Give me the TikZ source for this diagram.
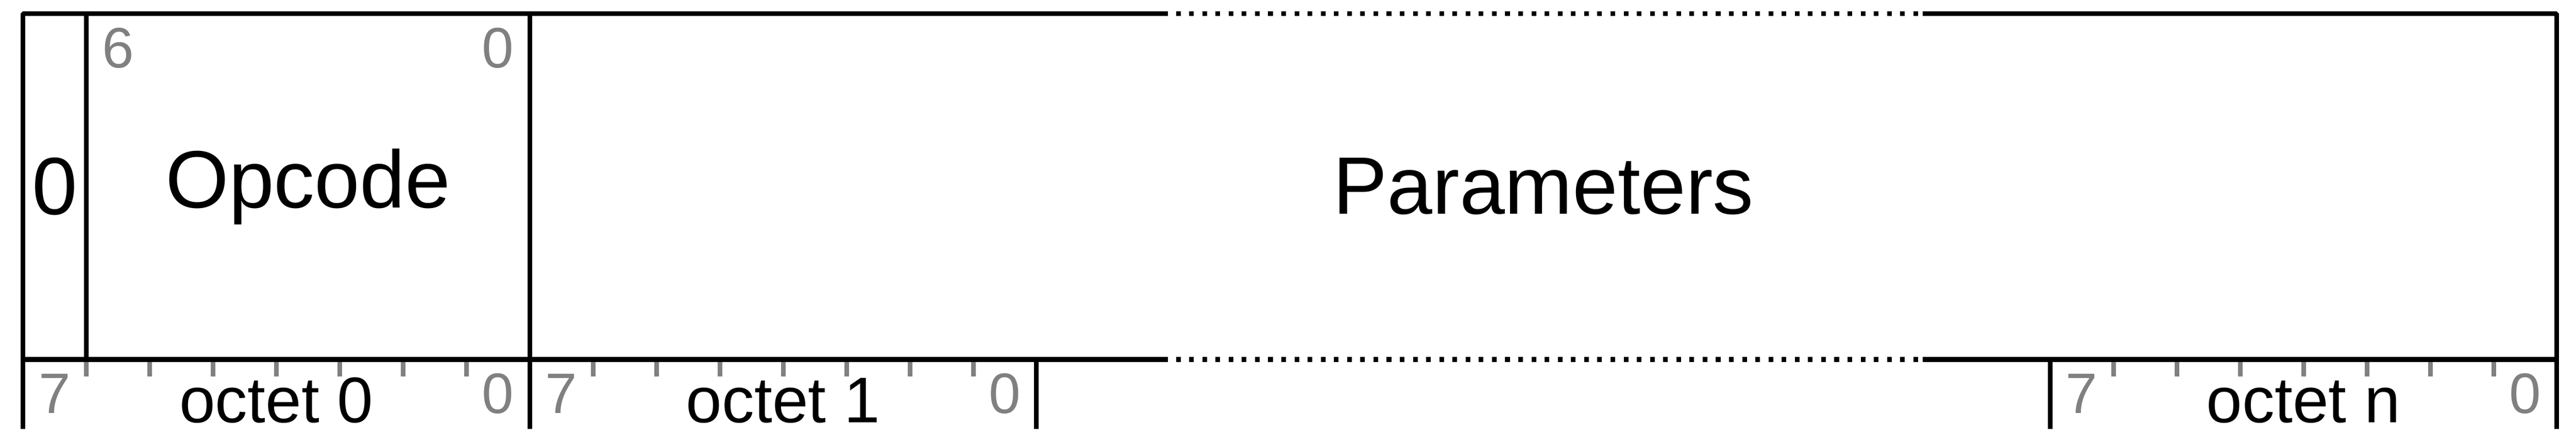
\documentclass[tikz,border=0pt]{standalone}
\usepackage{fontspec}
\setmainfont{Liberation Sans}
\usepackage{tikz}
\usetikzlibrary{
  calc,
  positioning,
}
\definecolor{bitgrey}{RGB}{128, 128, 128}
\tikzstyle{field} = [
  rectangle,
  line width=1pt,
  line join=bevel,
  inner sep=0pt,
  outer sep=0pt,
  minimum height=73.95pt,
  font=\fontsize{17.4}{20}\selectfont,
]
\tikzstyle{octet} = [
  rectangle,
  inner sep=0pt,
  outer sep=0pt,
  minimum width=108.3pt,
  text height=13.45pt,
  text depth=1.4pt,
  font=\fontsize{13.8}{16}\selectfont,
]
\tikzstyle{bitnum} = [
  inner sep=0pt,
  text=bitgrey,
  font=\fontsize{12.2}{14}\selectfont,
]
\tikzstyle{boxline} = [line width=1pt, line join=bevel]
\tikzstyle{gapline} = [line width=1pt, dash pattern=on 1pt off 1.814pt]
\tikzstyle{bittick} = [line width=1pt, bitgrey]

\begin{document}
\begin{tikzpicture}[node distance=0mm and 0mm]
    \useasboundingbox (0,0) rectangle (550.5pt,-95.5pt);

    \node[field,draw,minimum width=13.54pt,anchor=north west] (f0) at (4.9pt,-2.9pt) {0};
    \node[field,draw,minimum width=94.76pt] (f1) [right=of f0] {Opcode};
    \node[field,minimum width=433.2pt] (f2) [right=of f1] {Parameters};

    \draw[boxline] (f2.north west) -- ++(136.4pt,0);
    \draw[gapline] ($(f2.north west)+(138.1pt,0)$) -- ($(f2.north west)+(296.8pt,0)$);
    \draw[boxline] ($(f2.north west)+(297.7pt,0)$) -- (f2.north east) -- (f2.south east) -- ($(f2.south west)+(297.7pt,0)$);
    \draw[gapline] ($(f2.south west)+(138.1pt,0)$) -- ($(f2.south west)+(296.8pt,0)$);
    \draw[boxline] (f2.south west) -- ++(136.4pt,0);

    \node[bitnum] (f1-6) at ($(f1.north west)+(6.77pt,-7.35pt)$) {6};
    \node[bitnum] (f1-0) at ($(f1.north east)+(-6.77pt,-7.35pt)$) {0};

    \node[octet,anchor=north west] (o0) at (f0.south west) {octet 0};
    \node[octet] (o1) [right=of o0] {octet 1};
    \node[octet,anchor=north east] (on) at (f2.south east) {octet n};

    \foreach \oct in {o0,o1,on} {
        \draw[boxline] (\oct.north west) -- (\oct.south west) (\oct.north east) -- (\oct.south east);
        \foreach \k in {1,...,7}
            \draw[bittick] ($(\oct.north west)+(\k*13.54pt,-0.5pt)$) -- ++(0,-3.15pt);
        \node[bitnum] (\oct-7) at ($(\oct.north west)+(6.77pt,-7.35pt)$) {7};
        \node[bitnum] (\oct-0) at ($(\oct.north east)+(-6.77pt,-7.35pt)$) {0};
    }
\end{tikzpicture}
\end{document}
